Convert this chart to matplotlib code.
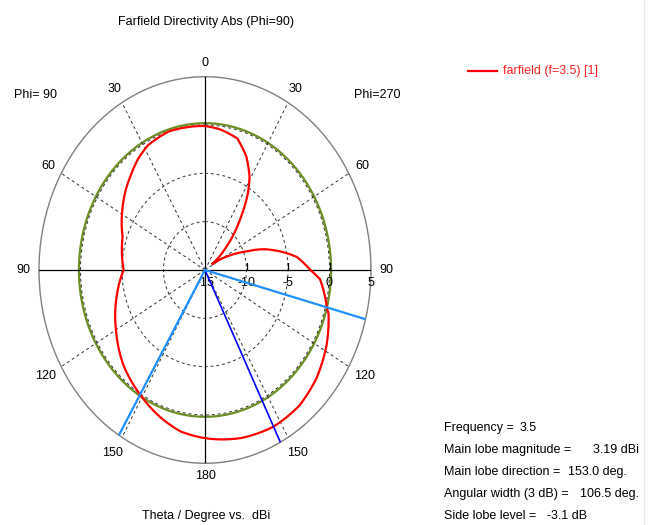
import numpy as np
from matplotlib import pyplot as plt
from matplotlib.lines import Line2D
from matplotlib.path import Path
from matplotlib.patches import PathPatch

plt.rcParams['font.family'] = ['Liberation Sans', 'DejaVu Sans']
plt.rcParams['font.size'] = 9

# directivity (dBi), theta in degrees
theta_phi90 = [0, 6, 17, 28, 35, 42, 50, 58, 71, 90, 105, 121, 135, 149, 161, 170, 180]
dir_phi90 = [-0.1, -0.08, -0.02, -0.38, -0.95, -1.7, -2.45, -3.25, -4.5, -5.2,
             -3.96, -2.52, -1.09, 0.1, 1.2, 1.96, 2.4]

theta_phi270 = [0, 7, 16, 23, 29, 33, 39, 47, 55, 62, 68, 73, 79, 83, 90, 94,
                101, 105, 107, 118, 130, 141, 153, 166, 180]
dir_phi270 = [-0.1, -0.33, -0.85, -2.25, -3.93, -5.5, -8.33, -11.45, -14.0, -12.05,
              -10.0, -7.64, -5.37, -3.87, -2.3, -1.1, -0.25, 0.2, 0.57, 1.59, 2.5,
              3.06, 3.19, 2.92, 2.4]

frequency = 3.5
main_lobe_mag = 3.19
main_lobe_dir = 153.0
angular_width = 106.5
side_lobe = -3.1
beam_edge_phi270 = 104.75
beam_edge_phi90 = 148.75

r_min, r_max = -15, 5
r_ticks = [-15, -10, -5, 0, 5]
angle_labels = [0, 30, 60, 90, 120, 150, 180, 150, 120, 90, 60, 30]

W, H = 656, 525
fig = plt.figure(figsize=(W / 100, H / 100), dpi=100)

def fx(x):
    return x / W

def fy(y):
    return 1 - y / H

cx, cy, rx, ry = 205, 270, 166, 193.3
ax = fig.add_axes([fx(cx - rx), fy(cy + ry), 2 * rx / W, 2 * ry / H], projection='polar')
ax.set_aspect('auto')
ax.set_theta_zero_location('N')
ax.set_theta_direction(-1)
ax.set_ylim(r_min, r_max)
ax.set_thetagrids(np.arange(0, 360, 30), labels=[''] * 12)
ax.set_rgrids([-10, -5, 0], labels=[''] * 3)
ax.grid(True, color='#303030', linestyle=(0, (3, 3)), linewidth=0.7)
ax.spines['polar'].set_color('#808080')
ax.spines['polar'].set_linewidth(1.0)

# solid axes
for a in [0, 90, 180, 270]:
    ax.plot([np.deg2rad(a)] * 2, [r_min, r_max], color='black', lw=0.9, zorder=3)
ax.plot([np.pi / 2] * 4, r_ticks[1:], linestyle='none', marker=2, markersize=5,
        color='black', mew=0.9, zorder=3)

# -3 dB circle
circ = np.linspace(0, 2 * np.pi, 400)
ax.plot(circ, np.full_like(circ, main_lobe_mag - 3), color='#6b8e23', lw=1.6, zorder=1)

# farfield curve, drawn as a path so the polar transform bends the segments
psi = np.concatenate([-np.array(theta_phi90[::-1]), np.array(theta_phi270[1:])])
vals = np.concatenate([np.array(dir_phi90[::-1]), np.array(dir_phi270[1:])])
curve = Path(np.column_stack([np.deg2rad(psi), vals]), _interpolation_steps=30)
ax.add_patch(PathPatch(curve, fill=False, edgecolor='#ff0000', lw=1.6, zorder=4,
                       transform=ax.transData))

# main lobe and beamwidth lines
ax.plot([np.deg2rad(main_lobe_dir)] * 2, [r_min, r_max], color='#0000ff', lw=1.2, zorder=5)
for a in [beam_edge_phi270, -beam_edge_phi90]:
    ax.plot([np.deg2rad(a)] * 2, [r_min, r_max], color='#1e90ff', lw=1.6, zorder=5)

ax.set_xticklabels([])
ax.set_yticklabels([])

# angle labels
for i, lab in enumerate(angle_labels):
    a = np.deg2rad(i * 30)
    d = 11 if lab < 100 else 13
    if lab == 0:
        d = 10
    if lab == 180:
        d = 9.5
    ax.annotate(str(lab), xy=(a, r_max), xytext=(d * np.sin(a), d * np.cos(a)),
                textcoords='offset points', ha='center', va='center', fontsize=9)

for r in r_ticks:
    ax.annotate(str(r), xy=(np.pi / 2, r), xytext=(0, -5), textcoords='offset points',
                ha='center', va='top', fontsize=9)

fig.text(fx(206), fy(22), 'Farfield Directivity Abs (Phi=90)', ha='center', va='center')
fig.text(fx(35), fy(95), 'Phi= 90', ha='center', va='center')
fig.text(fx(377), fy(95), 'Phi=270', ha='center', va='center')
fig.text(fx(206), fy(516), 'Theta / Degree vs.  dBi', ha='center', va='center')

# legend
fig.add_artist(Line2D([fx(468), fx(497)], [fy(71), fy(71)], color='#ff0000', lw=1.6))
fig.text(fx(503), fy(71), 'farfield (f=3.5) [1]', color='#ff2020', ha='left', va='center')

fig.add_artist(Line2D([fx(643.5), fx(643.5)], [0, 1], color='#e6e6e6', lw=1.0))

# summary
labels = ['Frequency =', 'Main lobe magnitude =', 'Main lobe direction =',
          'Angular width (3 dB) =', 'Side lobe level =']
values = [f'{frequency}', f'{main_lobe_mag:.2f} dBi', f'{main_lobe_dir:.1f} deg.',
          f'{angular_width:.1f} deg.', f'{side_lobe:.1f} dB']
value_x = [520, 593, 568, 580, 547]
for k in range(5):
    y = 428 + 22 * k
    fig.text(fx(444), fy(y), labels[k], ha='left', va='center')
    fig.text(fx(value_x[k]), fy(y), values[k], ha='left', va='center')

fig.savefig('out.png', dpi=100)
